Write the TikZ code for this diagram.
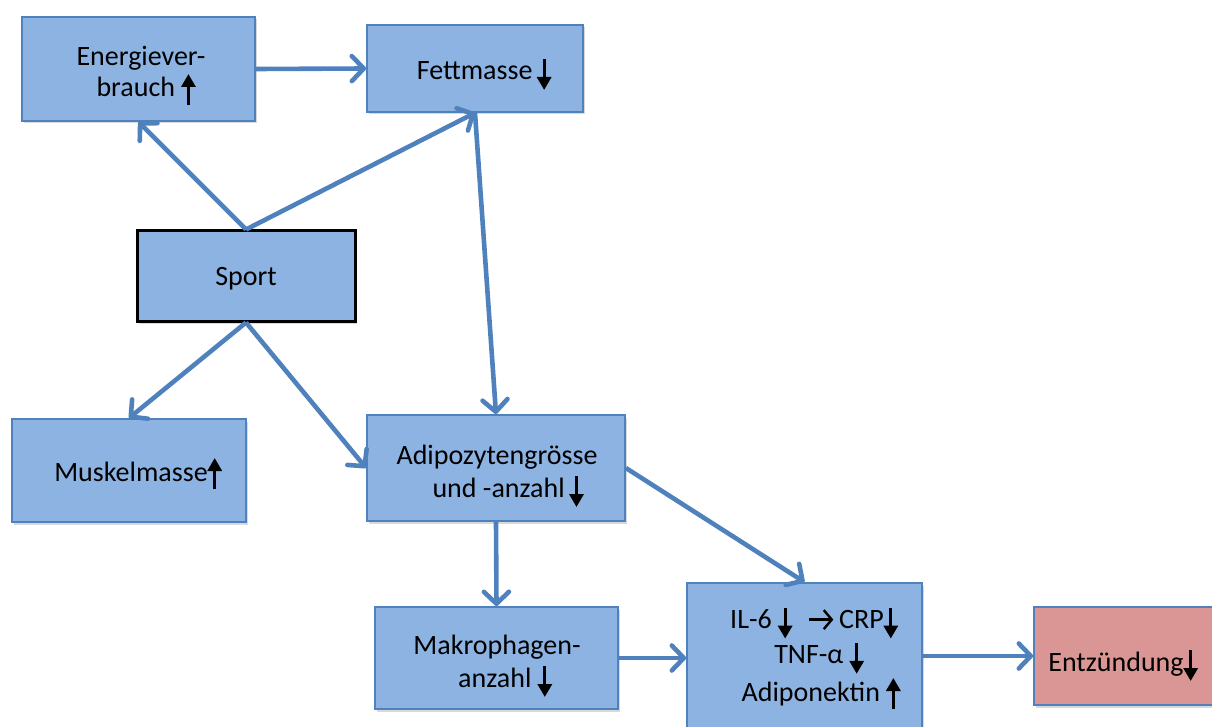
\documentclass[tikz,border=0pt]{standalone}
\usepackage{fontspec}
\setmainfont{Carlito}
\usetikzlibrary{arrows.meta,shadows}
\definecolor{boxfill}{HTML}{8DB3E2}
\definecolor{boxline}{HTML}{4F81BD}
\definecolor{inflfill}{HTML}{D99694}
% bold black up/down arrows and a thin "leads to" arrow used inside the labels
\newcommand\arrup{\tikz[baseline=0pt,x=1pt,y=1pt]{\draw[line width=3.2pt,black,-{Triangle[length=13pt,width=14pt]}] (0,-8)--(0,23);}}
\newcommand\arrdn{\tikz[baseline=0pt,x=1pt,y=1pt]{\draw[line width=3.2pt,black,-{Triangle[length=13pt,width=14pt]}] (0,21)--(0,-10);}}
\newcommand\thinarr{\tikz[baseline=0pt,x=1pt,y=1pt]{\draw[line width=2.4pt,black,-{Straight Barb[length=8pt,width=19pt]}] (0,9)--(24,9);}}
\begin{document}
\begin{tikzpicture}[x=1pt,y=-1pt,
  box/.style={draw=boxline,line width=1.8pt,fill=boxfill,inner sep=0pt,
    drop shadow={shadow xshift=2pt,shadow yshift=-2.5pt,opacity=0.3}},
  lbl/.style={align=center,font=\fontsize{28}{33}\selectfont,inner sep=0pt,anchor=base},
  link/.style={draw=boxline,line width=4.6pt,-{Straight Barb[length=12pt,width=25pt,round]}}]
\useasboundingbox (0,0) rectangle (1212,727);
\clip (0,0) rectangle (1212,727);

% boxes
\node[box,minimum width=233pt,minimum height=104pt] (energie) at (138.5,69) {};
\node[box,minimum width=216pt,minimum height=87pt] (fett) at (475,68.5) {};
\node[box,draw=black,line width=3pt,minimum width=218pt,minimum height=90pt] (sport) at (246,276) {};
\node[box,minimum width=234pt,minimum height=103pt] (muskel) at (129,470.5) {};
\node[box,minimum width=258pt,minimum height=106pt] (adipo) at (496,468) {};
\node[box,minimum width=243pt,minimum height=102pt] (makro) at (496.5,658) {};
\node[box,minimum width=235pt,minimum height=154pt] (il) at (804.5,660) {};
\node[box,fill=inflfill,minimum width=188pt,minimum height=98pt] (entz) at (1128,656) {};

% labels (base anchor = baseline of the last line)
\node[lbl,font=\fontsize{28}{31}\selectfont] (energie-t) at (141,97) {Energiever-\\\hspace*{10pt}brauch \arrup};
\node[lbl] (fett-t) at (484,80) {Fettmasse\,\arrdn};
\node[lbl] (sport-t) at (246,286) {Sport};
\node[lbl] (muskel-t) at (138,481) {Muskelmasse\arrup};
\node[lbl] (adipo-t) at (497,497) {Adipozytengrösse\\\hspace*{22pt}und -anzahl\,\arrdn};
\node[lbl] (makro-t) at (497,687) {Makrophagen-\\\hspace*{16pt}anzahl \arrdn};
\node[lbl] (il-t) at (814,701) {IL-6 \arrdn\hspace{16pt}\thinarr\,CRP\arrdn\\\hspace*{10pt}TNF-α \arrdn\\\hspace*{14pt}Adiponektin \arrup};
\node[lbl] (entz-t) at (1123,671) {Entzündung\arrdn};

% connectors
\draw[link] (energie.east) -- (fett.west);
\draw[link] (sport.north) -- (energie.south);
\draw[link] (sport.north) -- (fett.south);
\draw[link] (fett.south) -- (adipo.north);
\draw[link] (sport.south) -- (muskel.north);
\draw[link] (sport.south) -- (adipo.west);
\draw[link] (adipo.south) -- (makro.north);
\draw[link] (adipo.east) -- (il.north);
\draw[link] (makro.east) -- (makro.east -| il.west);
\draw[link] (entz.west -| il.east) -- (entz.west);
\end{tikzpicture}
\end{document}
